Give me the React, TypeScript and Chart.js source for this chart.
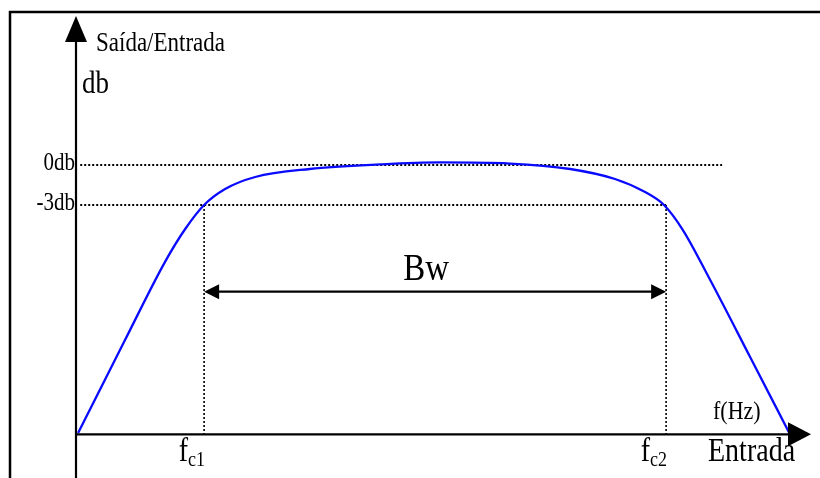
import React, { useEffect, useRef } from "react";
import { Chart, registerables } from "chart.js";

Chart.register(...registerables);

// Frequency (arbitrary units, origin at 0) and gain (dB)
const FREQ = [0.3, 7.0, 12.7, 15.6, 18.3, 21.3, 25.6, 33.4, 43.4, 52.0, 62.0, 70.6, 77.0, 81.3, 84.0, 86.7, 90.6, 96.3, 101.9];
const GAIN_DB = [-20.1, -13.13, -7.28, -4.8, -3.0, -1.8, -0.9, -0.3, 0.04, 0.19, 0.11, -0.3, -1.05, -2.03, -3.0, -4.88, -8.63, -14.4, -20.1];

const FC1 = 18.3;
const FC2 = 84.3;
const LEVEL_0DB = 0;
const LEVEL_3DB = -3;
const BASE_DB = -20.2;
const BW_LEVEL = -9.5;
const REF_START = 0.6;
const REF_END = 92.3;
const X_AXIS_END = 105.0;

const Y_TICK_LABELS = ["0db", "-3db"];
const Y_TICK_VALUES = [LEVEL_0DB, LEVEL_3DB];

const X_MIN = -76 / 7;
const X_MAX = (820 - 76) / 7;
const Y_MAX = 12.375;
const Y_MIN = -23.475;

const SERIF = '"Liberation Serif", "Times New Roman", serif';

function tri(ctx: CanvasRenderingContext2D, pts: number[][]) {
  ctx.beginPath();
  ctx.moveTo(pts[0][0], pts[0][1]);
  for (let i = 1; i < pts.length; i++) ctx.lineTo(pts[i][0], pts[i][1]);
  ctx.closePath();
  ctx.fill();
}

function txt(
  ctx: CanvasRenderingContext2D,
  s: string,
  x: number,
  y: number,
  size: number,
  align: CanvasTextAlign = "left",
  sy = 1.18
) {
  ctx.save();
  ctx.font = `${size}px ${SERIF}`;
  ctx.textAlign = align;
  ctx.textBaseline = "alphabetic";
  ctx.translate(x, y);
  ctx.scale(1, sy);
  ctx.fillText(s, 0, 0);
  ctx.restore();
}

const diagramPlugin = {
  id: "diagram",
  afterDatasetsDraw(chart: any) {
    const ctx: CanvasRenderingContext2D = chart.ctx;
    const xs = chart.scales.x;
    const ys = chart.scales.y;
    const W = chart.width;
    const H = chart.height;
    const ox = xs.getPixelForValue(0);
    const oy = ys.getPixelForValue(BASE_DB);
    ctx.save();
    ctx.strokeStyle = "#000";
    ctx.fillStyle = "#000";

    // frame (top + left)
    ctx.lineWidth = 2.5;
    ctx.beginPath();
    ctx.moveTo(10, H);
    ctx.lineTo(10, 12);
    ctx.lineTo(W, 12);
    ctx.stroke();

    // y axis
    ctx.lineWidth = 2.2;
    ctx.beginPath();
    ctx.moveTo(ox, H);
    ctx.lineTo(ox, 40);
    ctx.stroke();
    tri(ctx, [[ox, 16], [ox - 11, 42], [ox + 11, 42]]);

    // x axis
    const tipX = xs.getPixelForValue(X_AXIS_END);
    ctx.beginPath();
    ctx.moveTo(ox, oy);
    ctx.lineTo(tipX - 20, oy);
    ctx.stroke();
    tri(ctx, [[tipX, oy], [tipX - 23, oy - 12], [tipX - 23, oy + 12]]);

    // Bw arrow heads
    const bwy = ys.getPixelForValue(BW_LEVEL);
    const b1 = xs.getPixelForValue(FC1);
    const b2 = xs.getPixelForValue(FC2);
    tri(ctx, [[b1, bwy], [b1 + 15, bwy - 7.5], [b1 + 15, bwy + 7.5]]);
    tri(ctx, [[b2, bwy], [b2 - 15, bwy - 7.5], [b2 - 15, bwy + 7.5]]);

    // texts
    txt(ctx, "Saída/Entrada", ox + 20, 51, 23);
    txt(ctx, "db", ox + 6, 93, 27);

    Y_TICK_LABELS.forEach((t, i) => {
      txt(ctx, t, ox - 1, ys.getPixelForValue(Y_TICK_VALUES[i]) + 5, 21, "right");
    });

    txt(ctx, "Bw", (b1 + b2) / 2 - 9, bwy - 12, 33, "center");

    txt(ctx, "f(Hz)", tipX - 98, oy - 15, 22);
    txt(ctx, "Entrada", tipX - 103, oy + 27, 28);

    const fcLabel = (x: number, sub: string) => {
      ctx.font = `18px ${SERIF}`;
      const sw = ctx.measureText(sub).width;
      ctx.font = `28px ${SERIF}`;
      const fw = ctx.measureText("f").width;
      const left = x + 1 - sw - fw;
      txt(ctx, "f", left, oy + 27, 28);
      txt(ctx, sub, left + fw, oy + 32, 18);
    };
    fcLabel(b1, "c1");
    fcLabel(b2, "c2");

    ctx.restore();
  },
};

export default function App() {
  const ref = useRef<HTMLCanvasElement | null>(null);
  useEffect(() => {
    if (!ref.current) return;
    const dotted = {
      showLine: true,
      borderColor: "#000",
      borderWidth: 2,
      borderDash: [2, 2],
      pointRadius: 0,
      fill: false,
    };
    const chart = new Chart(ref.current, {
      type: "scatter",
      data: {
        datasets: [
          {
            label: "Saída/Entrada",
            data: FREQ.map((x, i) => ({ x, y: GAIN_DB[i] })),
            showLine: true,
            borderColor: "#0a0aff",
            borderWidth: 2.3,
            pointRadius: 0,
            cubicInterpolationMode: "monotone",
            fill: false,
          },
          { label: "0db", data: [{ x: REF_START, y: LEVEL_0DB }, { x: REF_END, y: LEVEL_0DB }], ...dotted },
          { label: "-3db", data: [{ x: REF_START, y: LEVEL_3DB }, { x: FC2, y: LEVEL_3DB }], ...dotted },
          { label: "fc1", data: [{ x: FC1, y: LEVEL_3DB }, { x: FC1, y: BASE_DB }], ...dotted, borderWidth: 1.6 },
          { label: "fc2", data: [{ x: FC2, y: LEVEL_3DB }, { x: FC2, y: BASE_DB }], ...dotted, borderWidth: 1.6 },
          {
            label: "Bw",
            data: [{ x: FC1 + 1.5, y: BW_LEVEL }, { x: FC2 - 1.5, y: BW_LEVEL }],
            showLine: true,
            borderColor: "#000",
            borderWidth: 2.4,
            pointRadius: 0,
          },
        ],
      },
      options: {
        responsive: false,
        animation: false,
        events: [],
        layout: { padding: 0 },
        plugins: { legend: { display: false }, tooltip: { enabled: false } },
        scales: {
          x: { type: "linear", display: false, min: X_MIN, max: X_MAX },
          y: { type: "linear", display: false, min: Y_MIN, max: Y_MAX },
        },
      },
      plugins: [diagramPlugin],
    });
    return () => chart.destroy();
  }, []);
  return (
    <div style={{ position: "fixed", left: 0, top: 0, width: 820, height: 478, background: "#fff" }}>
      <canvas ref={ref} width={820} height={478} style={{ display: "block" }} />
    </div>
  );
}
